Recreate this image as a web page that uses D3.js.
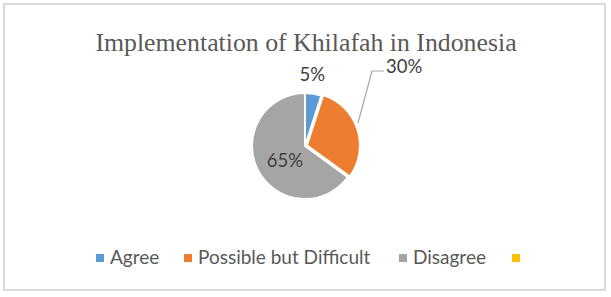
<!DOCTYPE html>
<html>
<head>
<meta charset="utf-8">
<script src="https://cdn.jsdelivr.net/npm/d3@7"></script>
<style>
  body { margin: 0; background: #fff; }
</style>
</head>
<body>
<div id="chart"></div>
<script>
// chart data
const categories = ['Agree', 'Possible but Difficult', 'Disagree', '']
const shares = [5, 30, 65, 0]
const colors = ['#5b9bd5', '#ed7d31', '#a5a5a5', '#ffc000']
const title = 'Implementation of Khilafah in Indonesia'

let fullWidth = 611
let fullHeight = 297

const svg = d3.select('#chart').append('svg')
    .attr('width', fullWidth)
    .attr('height', fullHeight)

// outer frame
svg.append('rect')
    .attr('x', 4).attr('y', 4)
    .attr('width', 601).attr('height', 286)
    .attr('fill', '#fff')
    .attr('stroke', '#d9d9d9')
    .attr('stroke-width', 2)

svg.append('text')
    .attr('x', 306).attr('y', 51)
    .attr('text-anchor', 'middle')
    .attr('font-family', 'Liberation Serif, Times New Roman, serif')
    .attr('font-size', 25.8)
    .attr('fill', '#595959')
    .text(title)

const cx = 305, cy = 146, r = 53

const data = categories.map((c, i) => ({ name: c, value: shares[i], color: colors[i] }))

const pie = d3.pie().sort(null).value(d => d.value)
const arc = d3.arc().innerRadius(0).outerRadius(r)
const arcs = pie(data).filter(d => d.data.value > 0)

const g = svg.append('g').attr('transform', `translate(${cx},${cy})`)

// small explode for the orange slice, like the original
const explode = d => d.index === 1 ? 2 : 0

g.selectAll('path')
    .data(arcs)
    .enter()
    .append('path')
    .attr('d', arc)
    .attr('transform', d => {
        let a = (d.startAngle + d.endAngle) / 2
        let e = explode(d)
        return `translate(${Math.sin(a) * e},${-Math.cos(a) * e})`
    })
    .attr('fill', d => d.data.color)
    .attr('stroke', '#fff')
    .attr('stroke-width', 2)

// labels
const fmt = d => d.data.value + '%'
const labelFont = 'Lato, Open Sans, sans-serif'

function label(d, x, y, anchor) {
    g.append('text')
        .attr('x', x).attr('y', y)
        .attr('text-anchor', anchor || 'middle')
        .attr('font-family', labelFont)
        .attr('font-size', 18.5)
        .attr('fill', '#404040')
        .text(fmt(d))
}

// Agree: outside above the slice
let a0 = arcs[0]
let ang0 = (a0.startAngle + a0.endAngle) / 2
label(a0, Math.sin(ang0) * (r + 13) - 3, -Math.cos(ang0) * (r + 13))

// Possible: outside with leader line
let a1 = arcs[1]
g.append('polyline')
    .attr('points', [[53, -23], [67, -75], [79, -75]].map(p => p.join(',')).join(' '))
    .attr('fill', 'none')
    .attr('stroke', '#a6a6a6')
    .attr('stroke-width', 1.2)
label(a1, 81, -73, 'start')

// Disagree: inside (centroid is at half the outer radius)
let a2 = arcs[2]
let c2 = d3.arc().innerRadius(0).outerRadius(r * 0.85).centroid(a2)
label(a2, c2[0], c2[1] + 11)

// legend
const legendX = [96, 184, 399, 512]
const legend = svg.append('g').attr('class', 'legend')
categories.forEach((c, i) => {
    legend.append('rect')
        .attr('x', legendX[i]).attr('y', 254)
        .attr('width', 8).attr('height', 8)
        .attr('fill', colors[i])
    legend.append('text')
        .attr('x', legendX[i] + 14).attr('y', 264)
        .attr('font-family', labelFont)
        .attr('font-size', 19)
        .attr('fill', '#595959')
        .text(c)
})
</script>
</body>
</html>
